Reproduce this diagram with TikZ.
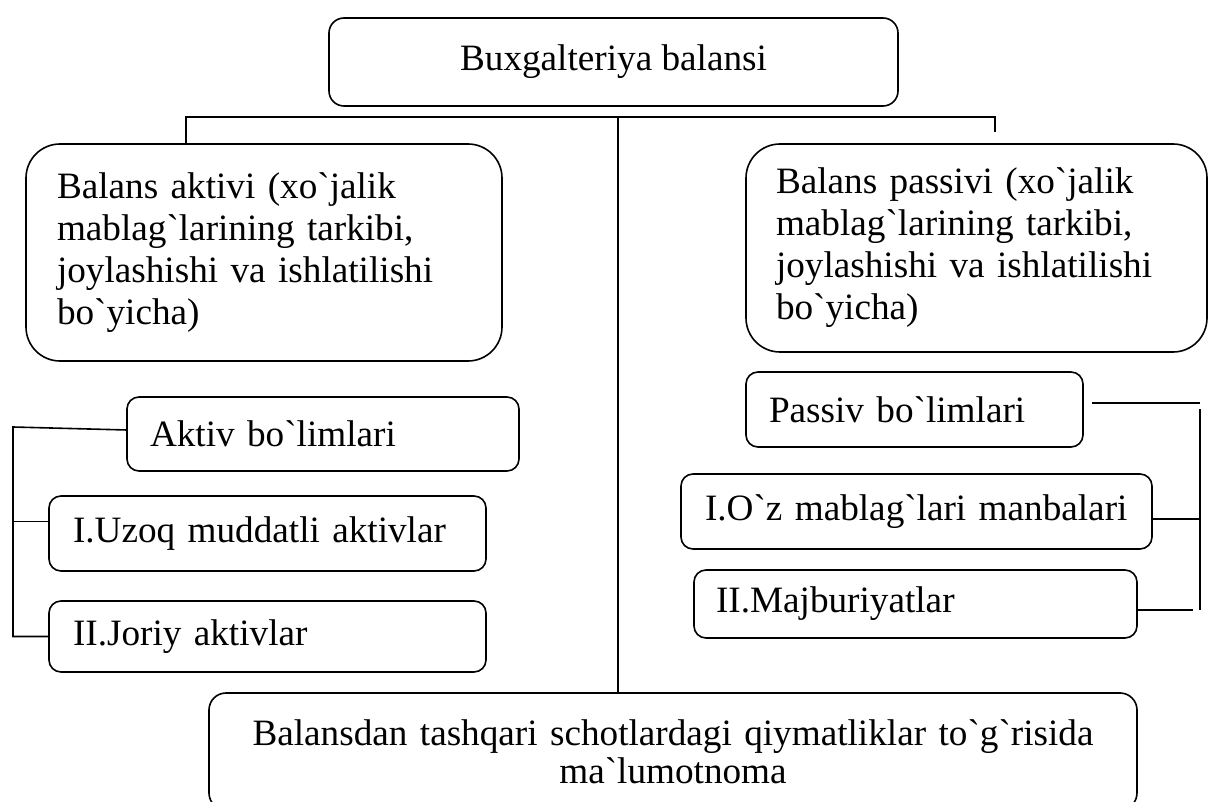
\documentclass[tikz,border=0pt]{standalone}
\usepackage{fontspec}
% plain family: keeps the grave accent ` as typed (no TeX quote ligatures)
\newfontfamily\tnr{Liberation Serif}
\begin{document}
\begin{tikzpicture}[x=1pt,y=-1pt,line width=1.6pt,
  every node/.style={font={\tnr\fontsize{37.2}{42}\selectfont}},
  rbox/.style={draw, rounded corners=12pt, anchor=north west, align=left,
               inner ysep=0pt, outer sep=0pt},
  bigbox/.style={rbox, rounded corners=34pt}]
  \useasboundingbox (0,0) rectangle (1208,802);
  \clip (0,0) rectangle (1208,802);

  % title
  \node[rbox, rounded corners=15pt, align=center, inner xsep=0pt,
        minimum width=569pt, minimum height=88pt] (top) at (329,18)
        {Buxgalteriya balansi};

  % assets and liabilities
  \node[bigbox, text width=414pt, inner xsep=31pt, minimum width=476pt,
        minimum height=217pt] (lbig) at (26,144)
        {Balans aktivi (xo`jalik\\mablag`larining tarkibi,\\joylashishi va ishlatilishi\\bo`yicha)};
  \node[bigbox, text width=401pt, inner xsep=30pt, minimum width=461pt,
        minimum height=208pt] (rbig) at (746,144)
        {Balans passivi (xo`jalik\\mablag`larining tarkibi,\\joylashishi va ishlatilishi\\bo`yicha)};

  % asset sections
  \node[rbox, text width=346pt, inner xsep=23pt, minimum width=392pt,
        minimum height=74pt] (akt) at (127,397) {Aktiv bo`limlari};
  \node[rbox, text width=389pt, inner xsep=24pt, minimum width=437pt,
        minimum height=75pt] (uz) at (49,496) {I.Uzoq muddatli aktivlar};
  \node[rbox, text width=389pt, inner xsep=24pt, minimum width=437pt,
        minimum height=71pt] (jor) at (49,601) {II.Joriy aktivlar};

  % liability sections
  \node[rbox, text width=291pt, inner xsep=23pt, minimum width=337pt,
        minimum height=75pt] (pas) at (746,372) {Passiv bo`limlari};
  \node[rbox, text width=423pt, inner xsep=24pt, minimum width=471pt,
        minimum height=75pt] (oz) at (681,474) {I.O`z mablag`lari manbalari};
  \node[rbox, text width=399pt, inner xsep=22pt, minimum width=443pt,
        minimum height=68pt] (maj) at (694,570) {II.Majburiyatlar};

  % off-balance note
  \node[rbox, rounded corners=17pt, align=center, text width=900pt,
        inner xsep=14pt, minimum width=928pt, minimum height=117pt,
        font={\tnr\fontsize{37.2}{38}\selectfont}] (bot) at (209,693)
        {Balansdan tashqari schotlardagi qiymatliklar to`g`risida\\ma`lumotnoma};

  % top branching line
  \coordinate (hl) at (186,117);
  \coordinate (hr) at (995,117);
  \coordinate (hc) at (618,117);
  \draw (hl |- lbig.north) -- (hl) -- (hr) -- ++(0,15);
  \draw (hc) -- (hc |- bot.north);

  % left bracket
  \coordinate (lb) at (13,427);
  \draw ([yshift=4pt]akt.west) -- (lb) -- (lb |- jor.west) -- (jor.west);
  \draw ([yshift=12pt]uz.west) coordinate (uzc) -- (uzc -| lb);

  % right bracket
  \coordinate (rbt) at (1200,409);
  \coordinate (rbb) at (1200,610);
  \draw (rbt) -- (rbb);
  \draw ([xshift=9pt,yshift=6.5pt]pas.east) coordinate (pac) -- (pac -| rbt);
  \draw ([yshift=-7.5pt]oz.east) coordinate (ozc) -- (ozc -| rbt);
  \draw ([yshift=-6pt]maj.east) coordinate (mac) -- ([xshift=-7pt]mac -| rbt);
\end{tikzpicture}
\end{document}
